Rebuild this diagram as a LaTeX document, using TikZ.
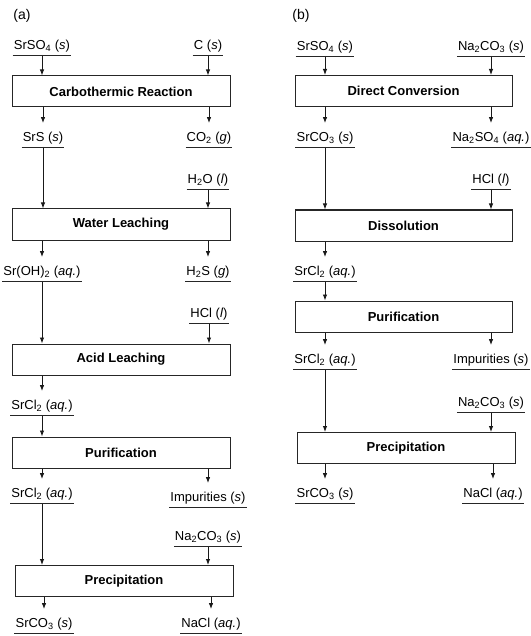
\documentclass[tikz,border=0pt]{standalone}
\usepackage{fontspec}
\setmainfont{Liberation Sans}
\usetikzlibrary{arrows.meta}

\newcommand{\dfont}{\fontsize{13}{15}\selectfont}
\newcommand{\phs}[1]{(\textit{#1})}

\tikzset{
  proc/.style={draw=black!85, line width=1pt, minimum width=218pt, minimum height=31pt, inner sep=0pt, font=\dfont\bfseries},
  chem/.style={anchor=south, inner xsep=1pt, inner ysep=0pt, text height=18pt, text depth=5.5pt, font=\dfont},
  arr/.style={-{Latex[length=6pt,width=4.5pt]}, line width=0.9pt, draw=black!90},
  uline/.style={line width=0.8pt, draw=black!85}
}

\begin{document}
\begin{tikzpicture}[x=1pt, y=-1pt]

    \useasboundingbox (0,0) rectangle (530,636);

    % (a) carbothermic route
    \node[font=\fontsize{14}{16}\selectfont] (lbla) at (22,16) {(a)};

    \node[chem] (a1) at (42,55) {SrSO\textsubscript{4} \phs{s}};
    \node[chem] (a2) at (208,55) {C \phs{s}};
    \node[proc] (cr) at (121,91.5) {Carbothermic Reaction};
    \node[chem] (a3) at (43,147) {SrS \phs{s}};
    \node[chem] (a4) at (209,147) {CO\textsubscript{2} \phs{g}};
    \node[chem] (a5) at (208,189) {H\textsubscript{2}O \phs{l}};
    \node[proc] (wl) at (121,224.5) {Water Leaching};
    \node[chem] (a6) at (42,281) {Sr(OH)\textsubscript{2} \phs{aq.}};
    \node[chem] (a7) at (208,281) {H\textsubscript{2}S \phs{g}};
    \node[chem] (a8) at (209,323) {HCl \phs{l}};
    \node[proc] (al) at (121,359.5) {Acid Leaching};
    \node[chem] (a9) at (42,415) {SrCl\textsubscript{2} \phs{aq.}};
    \node[proc] (pua) at (121,452.5) {Purification};
    \node[chem] (a10) at (42,503) {SrCl\textsubscript{2} \phs{aq.}};
    \node[chem] (a11) at (208,507) {Impurities \phs{s}};
    \node[chem] (a12) at (208,546) {Na\textsubscript{2}CO\textsubscript{3} \phs{s}};
    \node[proc] (pra) at (124,581) {Precipitation};
    \node[chem] (a13) at (44,633) {SrCO\textsubscript{3} \phs{s}};
    \node[chem] (a14) at (211,633) {NaCl \phs{aq.}};

    \draw[arr] (a1.south) -- (a1.south |- cr.north);
    \draw[arr] (a2.south) -- (a2.south |- cr.north);
    \draw[arr] (cr.south -| a3.north) -- (a3.north);
    \draw[arr] (cr.south -| a4.north) -- (a4.north);
    \draw[arr] (a3.south) -- (a3.south |- wl.north);
    \draw[arr] (a5.south) -- (a5.south |- wl.north);
    \draw[arr] (wl.south -| a6.north) -- (a6.north);
    \draw[arr] (wl.south -| a7.north) -- (a7.north);
    \draw[arr] (a6.south) -- (a6.south |- al.north);
    \draw[arr] (a8.south) -- (a8.south |- al.north);
    \draw[arr] (al.south -| a9.north) -- (a9.north);
    \draw[arr] (a9.south) -- (a9.south |- pua.north);
    \draw[arr] (pua.south -| a10.north) -- (a10.north);
    \draw[arr] (pua.south -| a11.north) -- (a11.north);
    \draw[arr] (a10.south) -- (a10.south |- pra.north);
    \draw[arr] (a12.south) -- (a12.south |- pra.north);
    \draw[arr] (pra.south -| a13.north) -- (a13.north);
    \draw[arr] (pra.south -| a14.north) -- (a14.north);

    % (b) direct conversion route
    \node[font=\fontsize{14}{16}\selectfont] (lblb) at (301,16) {(b)};

    \node[chem] (b1) at (325,56) {SrSO\textsubscript{4} \phs{s}};
    \node[chem] (b2) at (491,56) {Na\textsubscript{2}CO\textsubscript{3} \phs{s}};
    \node[proc, minimum width=217pt] (dc) at (403.5,91) {Direct Conversion};
    \node[chem] (b3) at (325,147) {SrCO\textsubscript{3} \phs{s}};
    \node[chem] (b4) at (491,147) {Na\textsubscript{2}SO\textsubscript{4} \phs{aq.}};
    \node[chem] (b5) at (491,189) {HCl \phs{l}};
    \node[proc, minimum width=217pt] (dis) at (403.5,225.5) {Dissolution};
    \node[chem] (b6) at (325,281) {SrCl\textsubscript{2} \phs{aq.}};
    \node[proc, minimum width=217pt] (pub) at (403.5,316.5) {Purification};
    \node[chem] (b7) at (325,369) {SrCl\textsubscript{2} \phs{aq.}};
    \node[chem] (b8) at (491,369) {Impurities \phs{s}};
    \node[chem] (b9) at (491,412) {Na\textsubscript{2}CO\textsubscript{3} \phs{s}};
    \node[proc] (prb) at (406,448) {Precipitation};
    \node[chem] (b10) at (325,503) {SrCO\textsubscript{3} \phs{s}};
    \node[chem] (b11) at (493,503) {NaCl \phs{aq.}};

    \draw[arr] (b1.south) -- (b1.south |- dc.north);
    \draw[arr] (b2.south) -- (b2.south |- dc.north);
    \draw[arr] (dc.south -| b3.north) -- (b3.north);
    \draw[arr] (dc.south -| b4.north) -- (b4.north);
    \draw[arr] (b3.south) -- (b3.south |- dis.north);
    \draw[arr] (b5.south) -- (b5.south |- dis.north);
    \draw[arr] (dis.south -| b6.north) -- (b6.north);
    \draw[arr] (b6.south) -- (b6.south |- pub.north);
    \draw[arr] (pub.south -| b7.north) -- (b7.north);
    \draw[arr] (pub.south -| b8.north) -- (b8.north);
    \draw[arr] (b7.south) -- (b7.south |- prb.north);
    \draw[arr] (b9.south) -- (b9.south |- prb.north);
    \draw[arr] (prb.south -| b10.north) -- (b10.north);
    \draw[arr] (prb.south -| b11.north) -- (b11.north);

    % underlines
    \foreach \n in {a1,a2,a3,a4,a5,a6,a7,a8,a9,a10,a11,a12,a13,a14,b1,b2,b3,b4,b5,b6,b7,b8,b9,b10,b11}
        \draw[uline] (\n.south west) -- (\n.south east);

\end{tikzpicture}
\end{document}
